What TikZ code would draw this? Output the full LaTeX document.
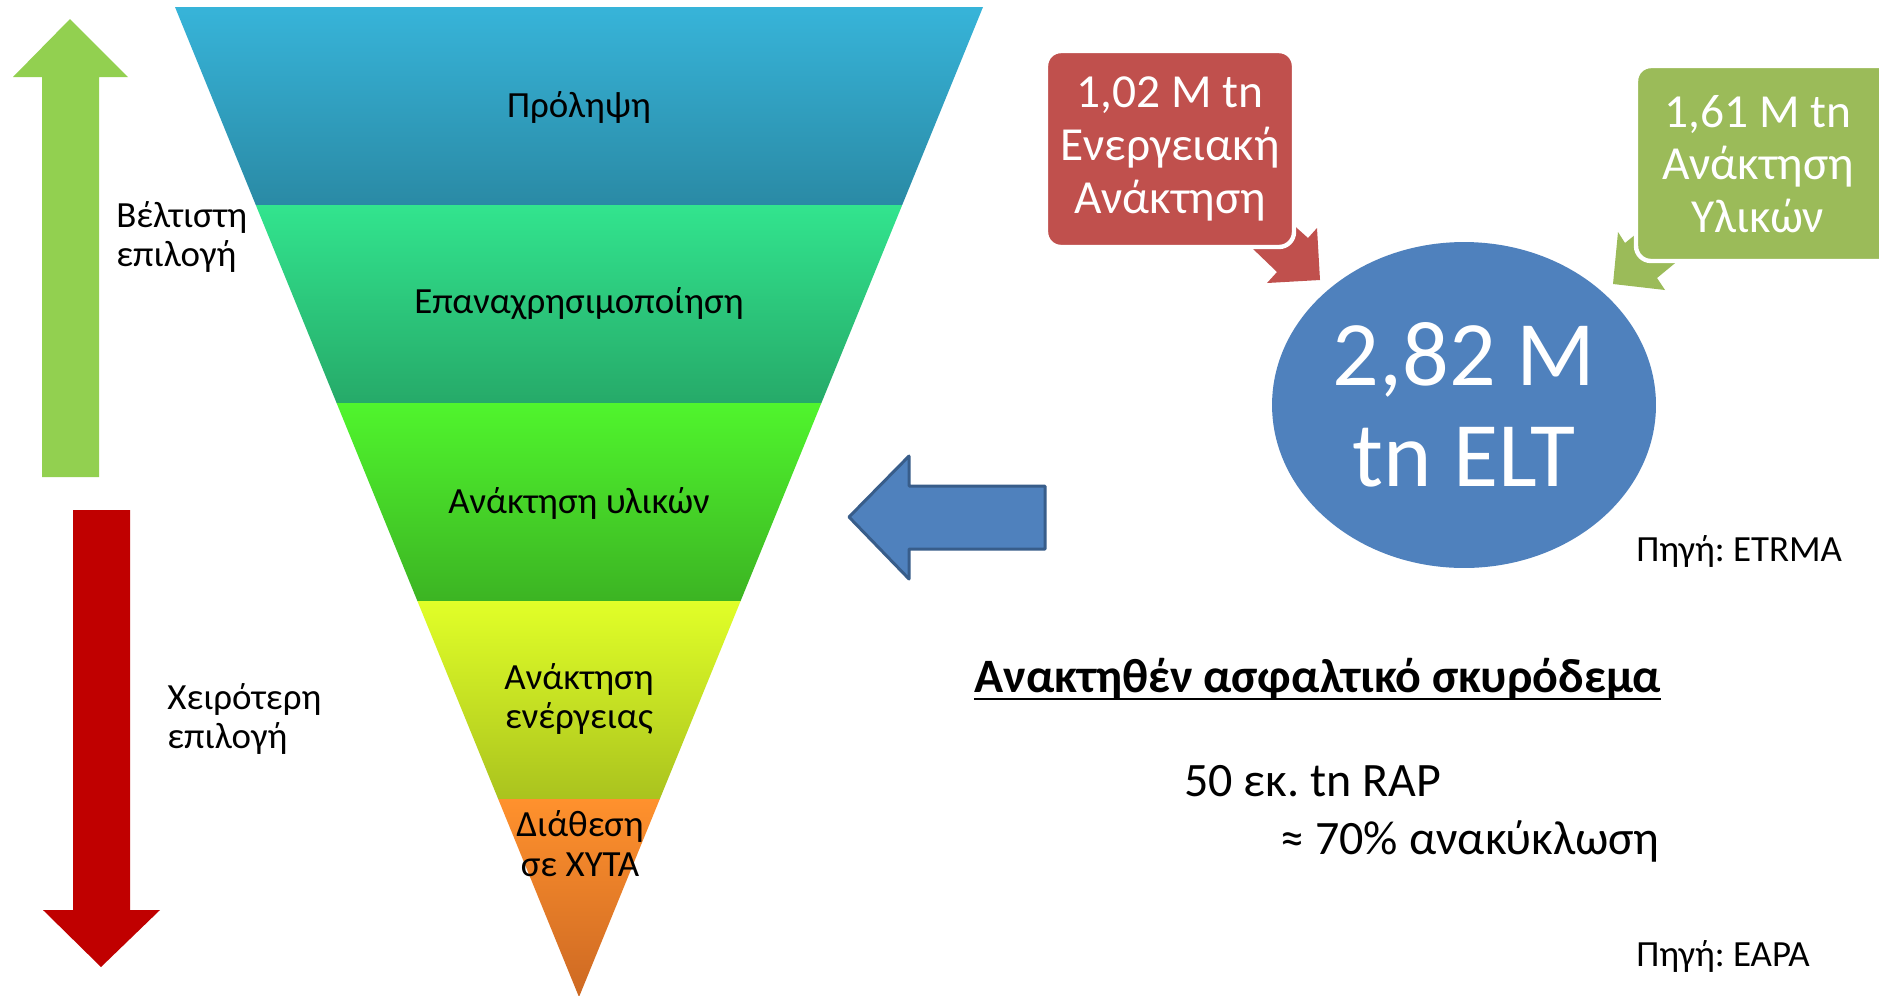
\documentclass[tikz,border=0pt]{standalone}
\usepackage{fontspec}
\setmainfont{Carlito}
\frenchspacing
\usetikzlibrary{shapes.geometric,calc}
\newcommand\myfs[2]{\fontsize{#1}{#2}\selectfont}
\definecolor{bandAt}{HTML}{37B4D9}\definecolor{bandAb}{HTML}{2A8AA5}
\definecolor{bandBt}{HTML}{32E48E}\definecolor{bandBb}{HTML}{26AA69}
\definecolor{bandCt}{HTML}{50F52D}\definecolor{bandCb}{HTML}{3CB423}
\definecolor{bandDt}{HTML}{E1FF28}\definecolor{bandDb}{HTML}{AAC31E}
\definecolor{bandEt}{HTML}{FF912D}\definecolor{bandEb}{HTML}{CD6923}
\definecolor{upgreen}{HTML}{92D050}
\definecolor{downred}{HTML}{C00000}
\definecolor{blueshape}{HTML}{4F81BD}
\definecolor{blueedge}{HTML}{385D8A}
\definecolor{redbox}{HTML}{C0504D}
\definecolor{greenbox}{HTML}{9BBB59}
\tikzset{
  lbl/.style={font=\myfs{21}{22.7}, text=black, inner sep=0pt, align=center},
  sidelbl/.style={font=\myfs{21}{22.7}, text=black, inner sep=0pt, align=left, anchor=west},
  boxtxt/.style={font=\myfs{27}{30}, text=white, inner sep=0pt, align=center},
  callbox/.style={rounded corners=0.3cm, draw=white, line width=2.5pt},
  srcl/.style={font=\myfs{21}{24}, text=black, inner sep=0pt, anchor=base west},
  bigtxt/.style={font=\myfs{27.3}{32}, text=black, inner sep=0pt}
}
\begin{document}
\begin{tikzpicture}[x=0.02cm, y=-0.02cm]
\useasboundingbox (0,0) rectangle (1879,995);
\clip (0,0) rectangle (1879,995);
\fill[white] (0,0) rectangle (1879,995);
% funnel
\shade[top color=bandAt, bottom color=bandAb] (175,7) -- (983,7) -- (902.2,205) -- (255.8,205) -- cycle;
\shade[top color=bandBt, bottom color=bandBb] (255.8,205) -- (902.2,205) -- (821.4,403) -- (336.6,403) -- cycle;
\shade[top color=bandCt, bottom color=bandCb] (336.6,403) -- (821.4,403) -- (740.6,601) -- (417.4,601) -- cycle;
\shade[top color=bandDt, bottom color=bandDb] (417.4,601) -- (740.6,601) -- (659.8,799) -- (498.2,799) -- cycle;
\shade[top color=bandEt, bottom color=bandEb] (498.2,799) -- (659.8,799) -- (579,997) -- cycle;
\node[lbl] (l1) at (579,107) {Πρόληψη};
\node[lbl] (l2) at (579,304) {Επαναχρησιμοποίηση};
\node[lbl] (l3) at (579,503) {Ανάκτηση υλικών};
\node[lbl] (l4) at (579,699) {Ανάκτηση\\ενέργειας};
\node[lbl] (l5) at (580,844) {Διάθεση\\σε ΧΥΤΑ};
% side arrows
\fill[upgreen] (42,477) -- (42,77) -- (13,77) -- (70,19) -- (128,77) -- (99,77) -- (99,477) -- cycle;
\fill[downred] (73,510) -- (130,510) -- (130,910) -- (160,910) -- (101,967) -- (43,910) -- (73,910) -- cycle;
\node[sidelbl] (best) at (116,237) {Βέλτιστη\\επιλογή};
\node[sidelbl] (worst) at (167,719) {Χειρότερη\\επιλογή};
% blue arrow
\filldraw[fill=blueshape, draw=blueedge, line width=1.7pt, line join=round] (1045,486) -- (909,486) -- (909,456) -- (849,517) -- (909,579) -- (909,549) -- (1045,549) -- cycle;
% ellipse
\node[ellipse, fill=blueshape, minimum width=7.68cm, minimum height=6.52cm, inner sep=0pt,
  font=\myfs{52.5}{57.8}, text=white, align=center] (elt) at (1464,405) {2,82 M\\tn ELT};
% callout pointers
\fill[redbox] (1225,222) -- (1277,272) -- (1267,283) -- (1320,280) -- (1317,228) -- (1308,238) -- (1260,195) -- cycle;
\fill[greenbox] (1613,284) -- (1618,232) -- (1625,243) -- (1690,190) -- (1720,226) -- (1657,278) -- (1665,290) -- cycle;
% callout boxes
\filldraw[callbox, fill=redbox] (1046,51) rectangle (1294,247);
\filldraw[callbox, fill=greenbox] (1636,66) rectangle (1900,261);
\node[boxtxt] (redtxt) at (1170,149) {1,02 M tn\\Ενεργειακή\\Ανάκτηση};
\node[boxtxt] (greentxt) at (1758,164) {1,61 M tn\\Ανάκτηση\\Υλικών};
% sources
\node[srcl] (src1) at (1636,561) {Πηγή: ETRMA};
\node[srcl] (src2) at (1636,966) {Πηγή: EAPA};
% asphalt text
\node[bigtxt, font=\bfseries\myfs{27.3}{32}, anchor=base west] (head) at (974,692) {Ανακτηθέν ασφαλτικό σκυρόδεμα};
\draw[line width=1.6pt] ([yshift=-0.14cm]head.base west) -- ([yshift=-0.14cm]head.base east);
\node[bigtxt, anchor=base west] (rap) at (1184,796) {50 εκ. tn RAP};
\node[bigtxt, anchor=base east] (pct) at (1660,854) {≈ 70\% ανακύκλωση};
\end{tikzpicture}
\end{document}
